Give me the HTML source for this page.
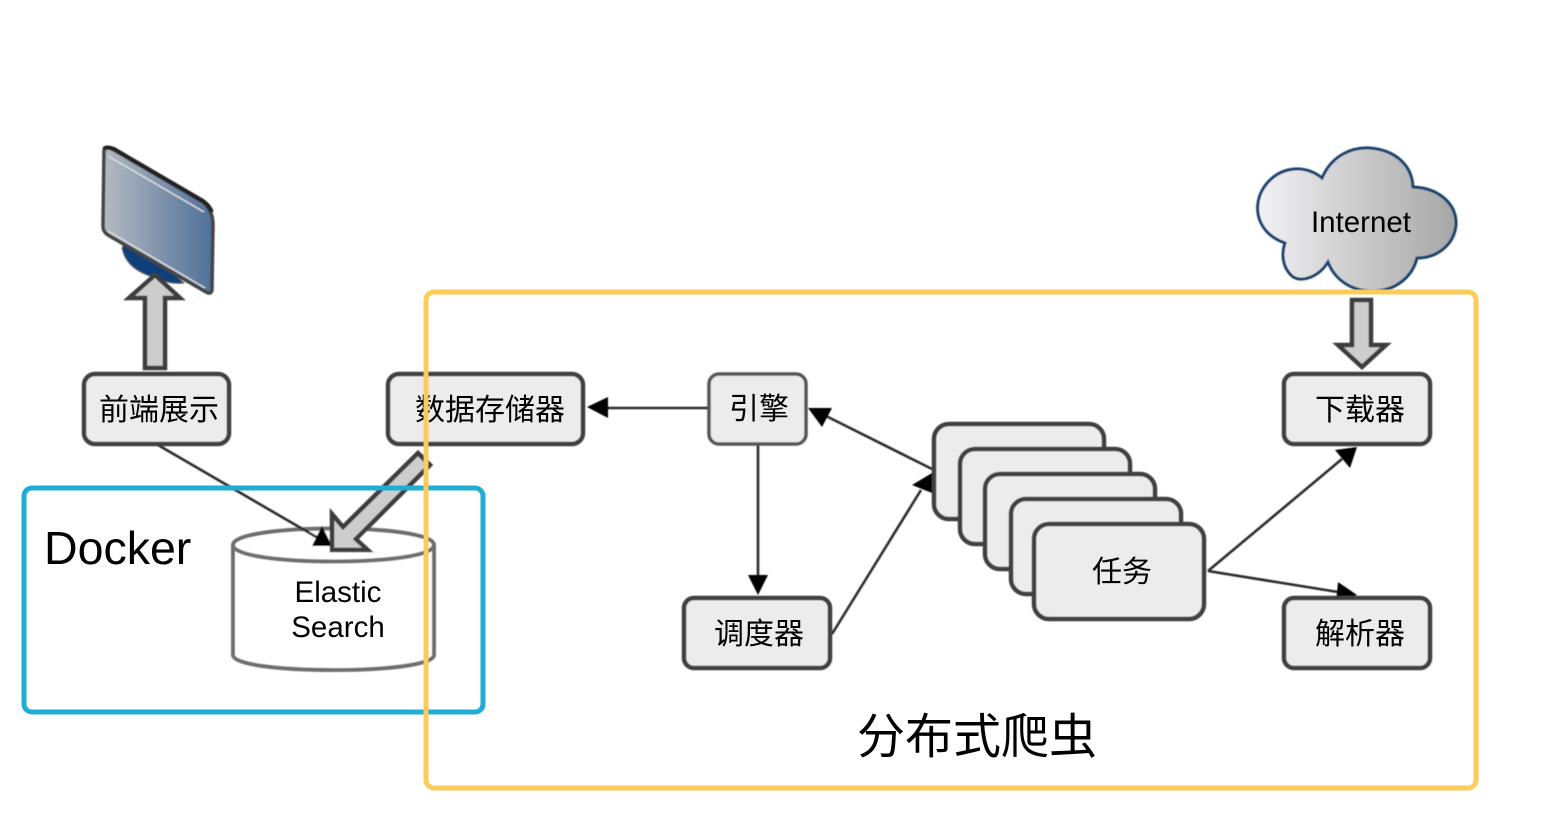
<!DOCTYPE html>
<html>
<head>
<meta charset="utf-8">
<style>
html,body{margin:0;padding:0;background:#fff;}
svg{display:block;}
text{font-family:"Liberation Sans","Noto Sans CJK SC",sans-serif;fill:#000;}
.n{fill:#ececec;stroke:#404040;stroke-width:4.5;}
.b{fill:#cdcdcd;stroke:#3c3c3c;stroke-width:4.5;stroke-linejoin:miter;}
.l{stroke:#2a2a2a;stroke-width:2.6;fill:none;}
</style>
</head>
<body>
<svg width="1564" height="834" viewBox="0 0 1564 834" xmlns="http://www.w3.org/2000/svg">
<defs>
<linearGradient id="mon" x1="0" x2="1" y1="0" y2="0"><stop offset="0" stop-color="#b4bac2"/><stop offset="1" stop-color="#4f7097"/></linearGradient>
<linearGradient id="cl" x1="0" x2="1" y1="0" y2="0"><stop offset="0" stop-color="#f2f2f4"/><stop offset="1" stop-color="#a6a6a6"/></linearGradient>
<filter id="bl" filterUnits="userSpaceOnUse" x="0" y="0" width="1564" height="834"><feGaussianBlur stdDeviation="0.55"/></filter>
</defs>

<g filter="url(#bl)">
<!-- monitor -->
<path d="M122 248 Q126 268 150 276 Q170 285 184 283 L160 262 L125 243 Z" fill="#0f3f7a" stroke="#666" stroke-width="1"/>
<path d="M104 150 Q106 146 114 150 L203 202 Q213 210 213 225 L212 290 Q211 295 206 292 L108 235 Q103 232 103 226 Z" fill="url(#mon)" stroke="#444" stroke-width="3.5"/>
<path d="M104 149 Q106 146 114 149 L203 201 Q209 205 212 212" stroke="#222" stroke-width="4" fill="none"/>
<path d="M108 156 L204 212" stroke="#ddd" stroke-width="1.5" fill="none"/>
<path d="M108 231 L205 288" stroke="#ddd" stroke-width="1.5" fill="none"/>

<!-- cloud -->
<path d="M1285 243 C1262 235 1253 215 1260 195 C1270 170 1300 160 1322 178 C1332 155 1352 147 1370 148 C1395 150 1412 165 1413 187 C1440 188 1457 205 1456 225 C1454 245 1437 258 1417 258 C1412 278 1395 290 1375 291 C1352 292 1335 280 1328 262 C1318 278 1300 283 1292 276 C1283 268 1281 255 1285 243 Z" fill="url(#cl)" stroke="#17426f" stroke-width="3"/>

<!-- block arrows -->
<path d="M145 368 V298 H129 L155 275 L180 298 H165 V368 Z" class="b"/>
<path d="M1352 300 V345 H1338 L1362 367 L1386 345 H1371 V300 Z" class="b"/>

<!-- database -->
<path d="M233 545 C233 523 434 523 434 545 V655 C434 675 233 675 233 655 Z" fill="#fff" stroke="#6e6e6e" stroke-width="4"/>
<path d="M233 545 C233 567 434 567 434 545" fill="none" stroke="#6e6e6e" stroke-width="4"/>

<!-- thin connectors -->
<line x1="158" y1="445" x2="318" y2="538" class="l"/>
<polygon points="332,546 312,546 322,526" fill="#000"/>
<line x1="708" y1="408" x2="604" y2="408" class="l"/>
<polygon points="587,407 608,397 608,418" fill="#000"/>
<line x1="758" y1="445" x2="758" y2="578" class="l"/>
<polygon points="758,595 748,575 768,575" fill="#000"/>
<line x1="832" y1="634" x2="921" y2="490" class="l"/>
<polygon points="932,473 912,485 932,493" fill="#000"/>
<line x1="932" y1="469" x2="826" y2="416" class="l"/>
<polygon points="808,408 832,408 822,427" fill="#000"/>
<line x1="1208" y1="571" x2="1342" y2="459" class="l"/>
<polygon points="1357,447 1350,468 1335,450" fill="#000"/>
<line x1="1208" y1="571" x2="1338" y2="592" class="l"/>
<polygon points="1357,595 1336,603 1338,582" fill="#000"/>

<!-- nodes -->
<rect x="84" y="374" width="145" height="70" rx="11" class="n"/>
<rect x="388" y="374" width="195" height="70" rx="11" class="n"/>
<rect x="709" y="374" width="97" height="70" rx="10" fill="#ececec" stroke="#555" stroke-width="3.5"/>
<rect x="684" y="598" width="146" height="70" rx="10" class="n"/>
<rect x="1284" y="374" width="146" height="70" rx="10" class="n"/>
<rect x="1284" y="598" width="146" height="70" rx="10" class="n"/>

<!-- stacked tasks -->
<rect x="934" y="424" width="170" height="95" rx="15" class="n"/>
<rect x="960" y="449" width="170" height="95" rx="15" class="n"/>
<rect x="985" y="474" width="170" height="95" rx="15" class="n"/>
<rect x="1011" y="499" width="170" height="95" rx="15" class="n"/>
<rect x="1034" y="524" width="170" height="95" rx="15" class="n"/>

<!-- big arrow -->
<path d="M418 453 L430 465 L356 539 L368 550 L332 550 L332 514 L343 527 Z" class="b"/>
</g>

<!-- labels -->
<text x="1361" y="232" font-size="29.5" text-anchor="middle">Internet</text>
<text x="338" y="602" font-size="29.5" text-anchor="middle">Elastic</text>
<text x="338" y="637" font-size="29.5" text-anchor="middle">Search</text>
<text x="159" y="420" font-size="30" text-anchor="middle">前端展示</text>
<text x="490" y="420" font-size="30" text-anchor="middle">数据存储器</text>
<text x="759" y="419" font-size="30" text-anchor="middle">引擎</text>
<text x="759" y="644" font-size="30" text-anchor="middle">调度器</text>
<text x="1360" y="420" font-size="30" text-anchor="middle">下载器</text>
<text x="1360" y="644" font-size="30" text-anchor="middle">解析器</text>
<text x="1122" y="582" font-size="30" text-anchor="middle">任务</text>

<!-- group frames -->
<rect x="24" y="488" width="459" height="224" rx="8" fill="none" stroke="#20acd6" stroke-width="5"/>
<rect x="426" y="292" width="1050" height="496" rx="8" fill="none" stroke="#fccb5a" stroke-width="5"/>

<text x="44" y="564" font-size="46.5">Docker</text>
<text x="977" y="753" font-size="48" text-anchor="middle">分布式爬虫</text>
</svg>
</body>
</html>
